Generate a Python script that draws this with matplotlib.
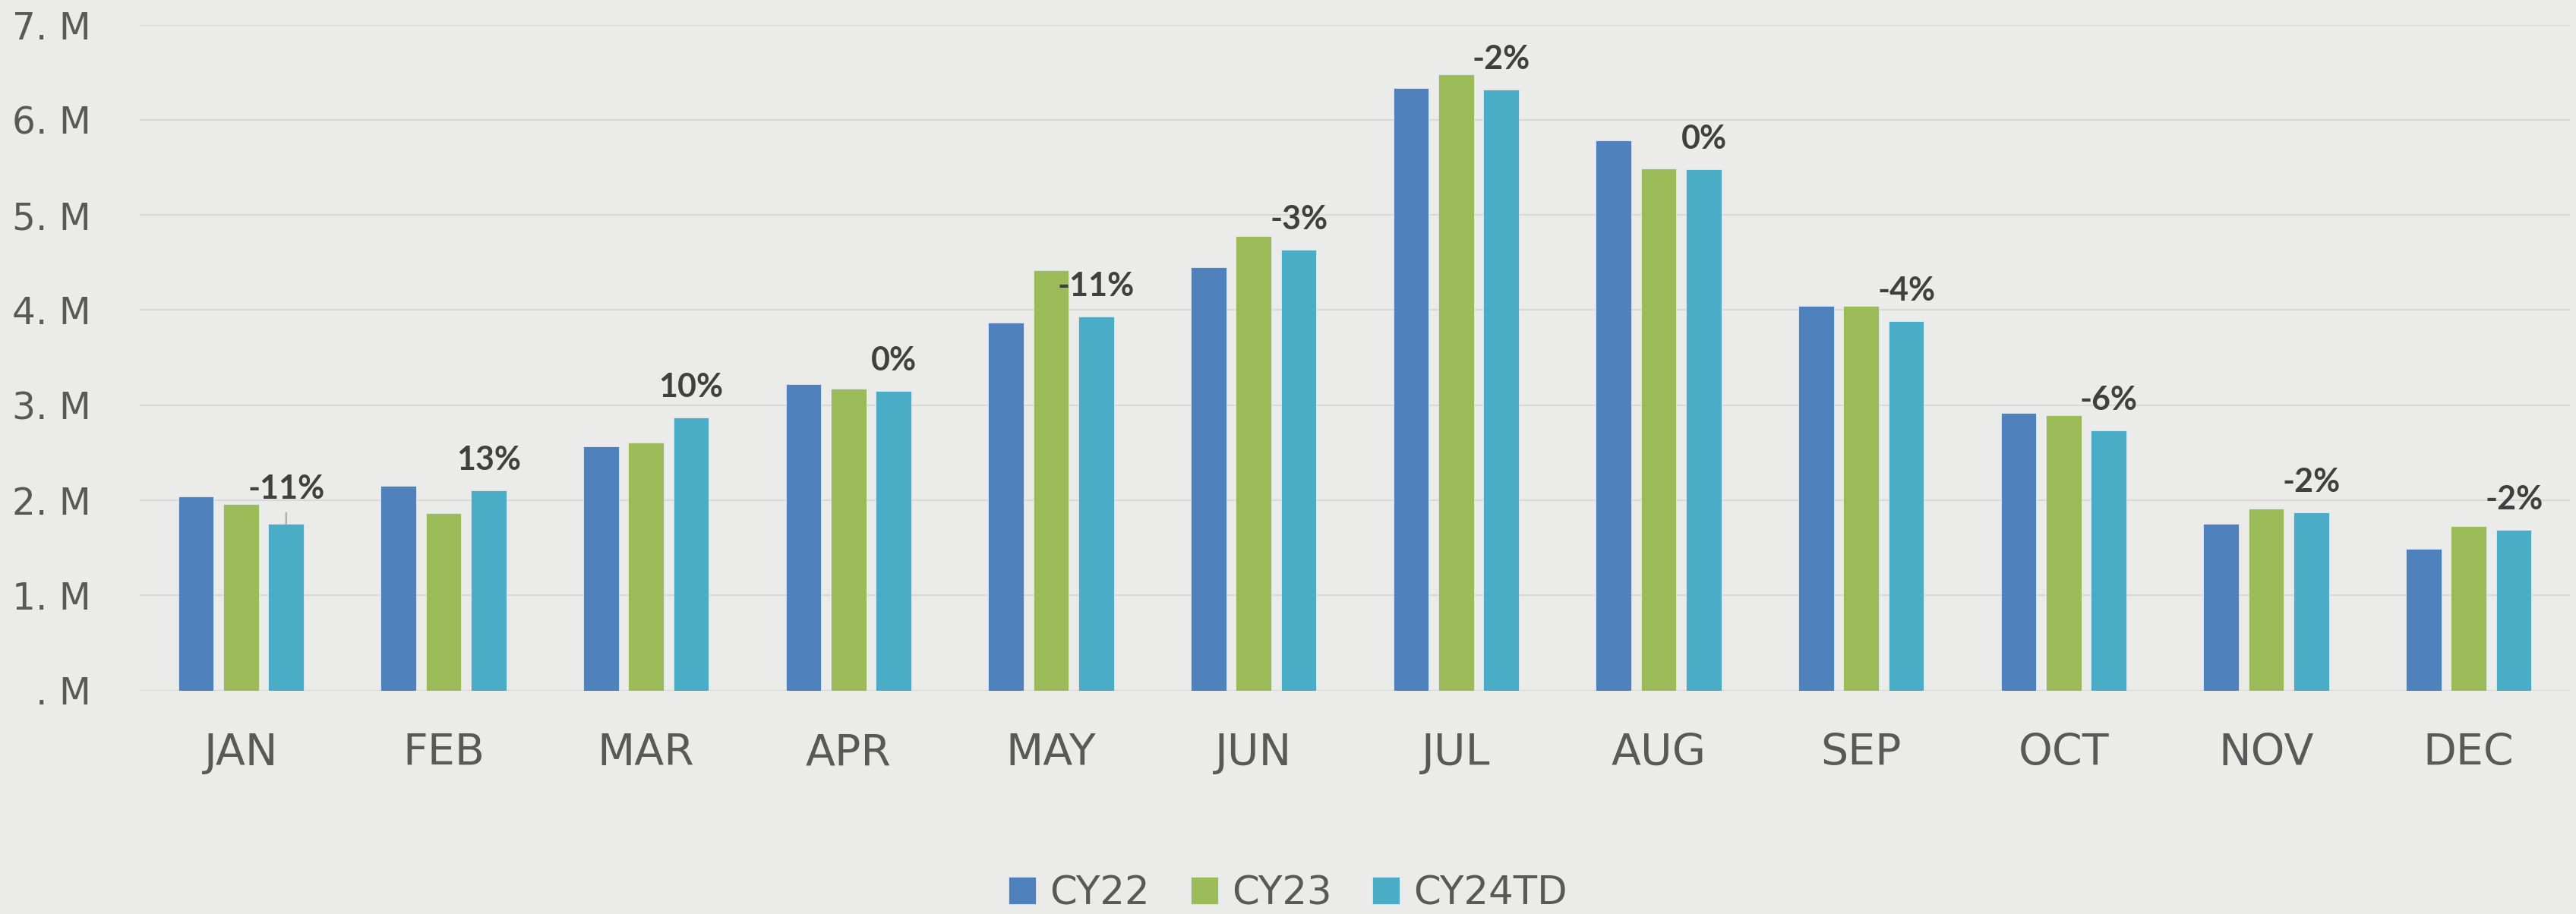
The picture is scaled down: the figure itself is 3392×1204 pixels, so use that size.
import numpy as np
import matplotlib
matplotlib.use("Agg")
import matplotlib.pyplot as plt

# monthly totals, millions
months = ["JAN", "FEB", "MAR", "APR", "MAY", "JUN", "JUL", "AUG", "SEP", "OCT", "NOV", "DEC"]
cy22 = [2.04, 2.15, 2.57, 3.22, 3.87, 4.45, 6.33, 5.78, 4.04, 2.92, 1.75, 1.49]
cy23 = [1.96, 1.86, 2.61, 3.17, 4.42, 4.78, 6.48, 5.49, 4.04, 2.89, 1.91, 1.73]
cy24 = [1.75, 2.10, 2.87, 3.15, 3.93, 4.63, 6.32, 5.48, 3.88, 2.73, 1.87, 1.69]
series_names = ["CY22", "CY23", "CY24TD"]
pct_labels = ["-11%", "13%", "10%", "0%", "-11%", "-3%", "-2%", "0%", "-4%", "-6%", "-2%", "-2%"]
ytick_vals = [0, 1, 2, 3, 4, 5, 6, 7]
ytick_labels = [". M", "1. M", "2. M", "3. M", "4. M", "5. M", "6. M", "7. M"]

colors = ["#4F81BD", "#9BBB59", "#4BACC6"]
bg = "#EBEBE9"

W, H = 3392, 1204
fig = plt.figure(figsize=(W / 100, H / 100), dpi=100, facecolor=bg)
ax = fig.add_axes([184 / W, 1 - 909.5 / H, 3200 / W, 877 / H])
ax.set_facecolor(bg)

x = np.arange(len(months))
width = 0.175
step = 0.223
bars = []
for i, (vals, name) in enumerate(zip([cy22, cy23, cy24], series_names)):
    b = ax.bar(x + (i - 1) * step, vals, width, color=colors[i], label=name, zorder=3,
               edgecolor="#dfe8f0", linewidth=0.6)
    bars.append(b)

# pct change labels above the CY24 bars
for i, lab in enumerate(pct_labels):
    bx = x[i] + step
    if i == 0:
        ax.annotate(lab, xy=(bx, cy24[i]), xytext=(0, 46), textcoords="offset pixels",
                    ha="center", va="center", fontsize=31, fontweight="bold",
                    family="Lato", color="#404040",
                    arrowprops=dict(arrowstyle="-", color="#a6a6a6", lw=1.5,
                                    shrinkA=6, shrinkB=0))
    else:
        ax.annotate(lab, xy=(bx, cy24[i]), xytext=(0, 40), textcoords="offset pixels",
                    ha="center", va="center", fontsize=31, fontweight="bold",
                    family="Lato", color="#404040")

ax.set_xlim(-0.5, 11.5)
ax.set_ylim(0, 7)
ax.set_yticks(ytick_vals)
ax.set_yticklabels(ytick_labels, fontsize=35, color="#595959", family="DejaVu Sans")
ax.set_xticks(x)
ax.set_xticklabels(months, fontsize=41, color="#595959", family="DejaVu Sans")
ax.tick_params(axis="y", length=0, pad=46)
ax.tick_params(axis="x", length=0, pad=40)
ax.grid(axis="y", color="#D9D9D9", linewidth=1.6, zorder=0)
for s in ax.spines.values():
    s.set_visible(False)

fig.legend(handles=bars, labels=series_names, loc="center", bbox_to_anchor=(0.5, 1 - 1177 / H),
           ncol=3, frameon=False, prop={"family": "DejaVu Sans", "size": 37},
           labelcolor="#595959", handlelength=0.7, handleheight=0.7,
           handletextpad=0.35, columnspacing=1.05, borderaxespad=0)

fig.savefig("out.png", dpi=100, facecolor=bg)
